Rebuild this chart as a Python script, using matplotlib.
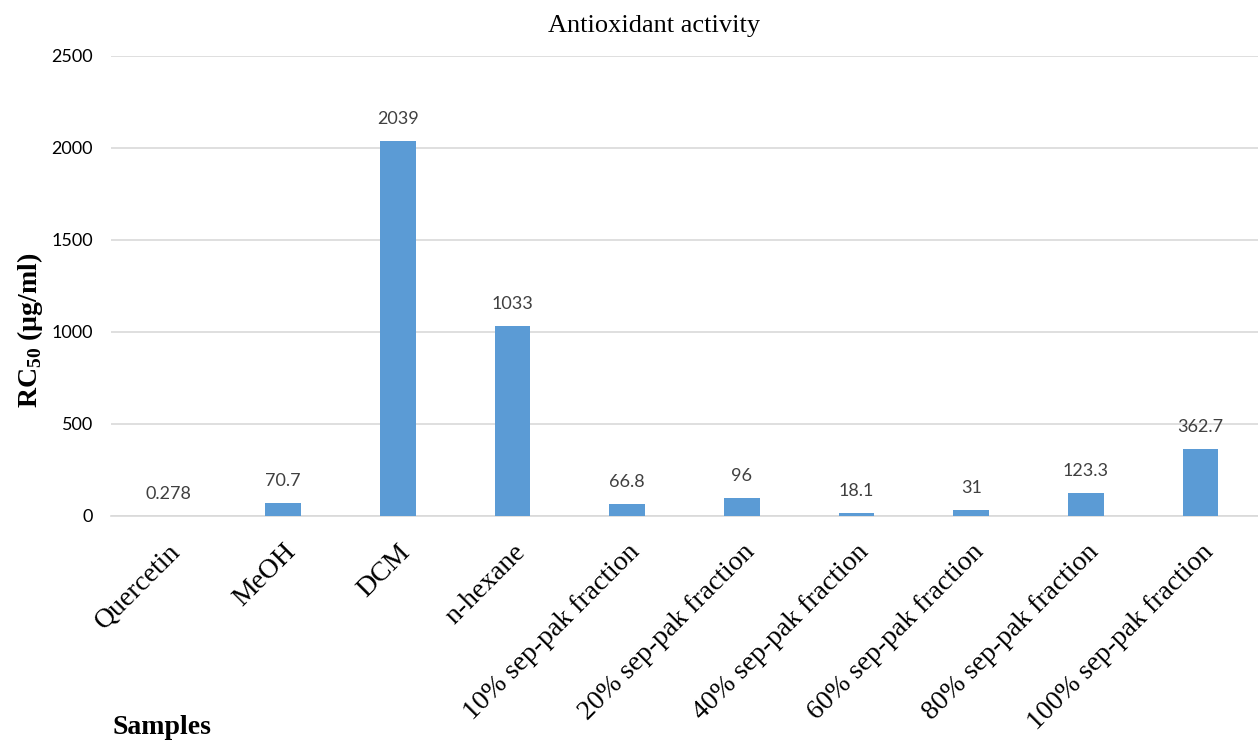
import numpy as np
import matplotlib
matplotlib.use("Agg")
import matplotlib.pyplot as plt

samples = ["Quercetin", "MeOH", "DCM", "n-hexane",
           "10% sep-pak fraction", "20% sep-pak fraction",
           "40% sep-pak fraction", "60% sep-pak fraction",
           "80% sep-pak fraction", "100% sep-pak fraction"]
rc50 = [0.278, 70.7, 2039, 1033, 66.8, 96, 18.1, 31, 123.3, 362.7]
value_labels = ["0.278", "70.7", "2039", "1033", "66.8", "96", "18.1", "31", "123.3", "362.7"]
y_ticks = [0, 500, 1000, 1500, 2000, 2500]

plt.rcParams["mathtext.fontset"] = "custom"
plt.rcParams["mathtext.rm"] = "Liberation Serif"
plt.rcParams["mathtext.bf"] = "Liberation Serif:bold"

serif = "Liberation Serif"
sans = "Lato"

fig = plt.figure(figsize=(12.58, 7.42), dpi=100)
ax = fig.add_axes([111 / 1258, 1 - 516 / 742, 1 - 111 / 1258, (516 - 56) / 742])

x = np.arange(len(samples))
bars = ax.bar(x, rc50, width=0.31, color="#5b9bd5", zorder=3)

for b, lab in zip(bars, value_labels):
    ax.annotate(lab, (b.get_x() + b.get_width() / 2, b.get_height()),
                xytext=(0, 10), textcoords="offset points",
                ha="center", va="bottom", fontsize=13, color="#404040",
                family=sans)

ax.set_xlim(-0.5, len(samples) - 0.5)
ax.set_ylim(0, 2500)
ax.set_yticks(y_ticks)
ax.set_yticklabels([str(t) for t in y_ticks], family=sans, fontsize=13)
ax.grid(axis="y", color="#d9d9d9", linewidth=1.2, zorder=0)
for s in ["top", "right", "left"]:
    ax.spines[s].set_visible(False)
ax.spines["bottom"].set_color("#d9d9d9")
ax.spines["bottom"].set_linewidth(1.2)
ax.tick_params(axis="both", length=0)
ax.tick_params(axis="y", pad=13)

ax.set_xticks(x)
ax.set_xticklabels(samples, rotation=45, ha="right", rotation_mode="anchor",
                   family=serif, fontsize=20)
ax.tick_params(axis="x", pad=17)

fig.text(654 / 1258, 1 - 26 / 742, "Antioxidant activity", ha="center", va="center",
         family=serif, fontsize=19)
fig.text(30 / 1258, 1 - 330 / 742, r"RC$_{\mathbf{50}}$ (µg/ml)", rotation=90,
         ha="center", va="center", family=serif, fontsize=20, fontweight="bold")
fig.text(113 / 1258, 1 - 728 / 742, "Samples", ha="left", va="center",
         family=serif, fontsize=20, fontweight="bold")

fig.savefig("out.png", dpi=100)
